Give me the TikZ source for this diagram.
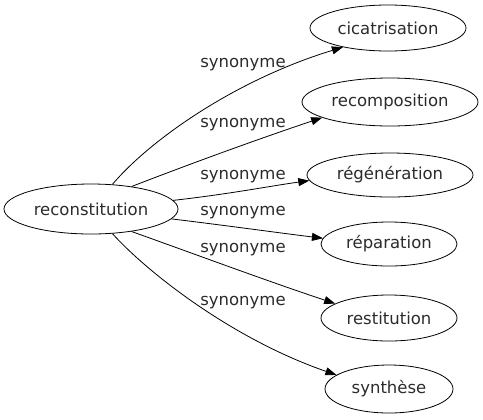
\documentclass[tikz,border=0pt]{standalone}
\usepackage{fontspec}
\setmainfont{DejaVu Sans}
\usetikzlibrary{shapes.geometric,arrows.meta}
\definecolor{txt}{HTML}{2B2B2B}
\tikzset{
  term/.style={ellipse,draw=black,line width=0.8bp,inner sep=0pt,text=txt,font=\fontsize{16.5bp}{19bp}\selectfont},
  rel/.style={text=txt,font=\fontsize{16.5bp}{19bp}\selectfont},
  link/.style={draw=black,line width=0.8bp,-{Triangle[length=11bp,width=8bp]}}
}
\begin{document}
\begin{tikzpicture}[x=1bp,y=-1bp]
\useasboundingbox (0,0) rectangle (483,419);
\node[term,minimum width=174bp,minimum height=50bp] (src) at (91,209) {reconstitution};
\node[term,minimum width=156bp,minimum height=46bp] (t1) at (388,28) {cicatrisation};
\node[term,minimum width=176bp,minimum height=48bp] (t2) at (390,102) {recomposition};
\node[term,minimum width=166bp,minimum height=44bp] (t3) at (390,175) {régénération};
\node[term,minimum width=136bp,minimum height=44bp] (t4) at (389,244) {réparation};
\node[term,minimum width=136bp,minimum height=46bp] (t5) at (389,318) {restitution};
\node[term,minimum width=128bp,minimum height=48bp] (t6) at (389,389) {synthèse};
\draw[link] (src.49) .. controls (150,140) and (235,80) .. (t1.203.5);
\draw[link] (src.29) .. controls (200,160) and (270,135) .. (t2.193);
\draw[link] (src.6) .. controls (230,194) and (270,186) .. (t3.184);
\draw[link] (src.-7) .. controls (230,226) and (280,233) .. (t4.175);
\draw[link] (src.-29) .. controls (200,256) and (270,282) .. (t5.165);
\draw[link] (src.-49) .. controls (150,275) and (235,340) .. (t6.165.5);
\node[rel] (l1) at (243,65) {synonyme};
\node[rel] (l2) at (243,125) {synonyme};
\node[rel] (l3) at (243,177) {synonyme};
\node[rel] (l4) at (243,213) {synonyme};
\node[rel] (l5) at (243,250) {synonyme};
\node[rel] (l6) at (243,303) {synonyme};
\end{tikzpicture}
\end{document}
